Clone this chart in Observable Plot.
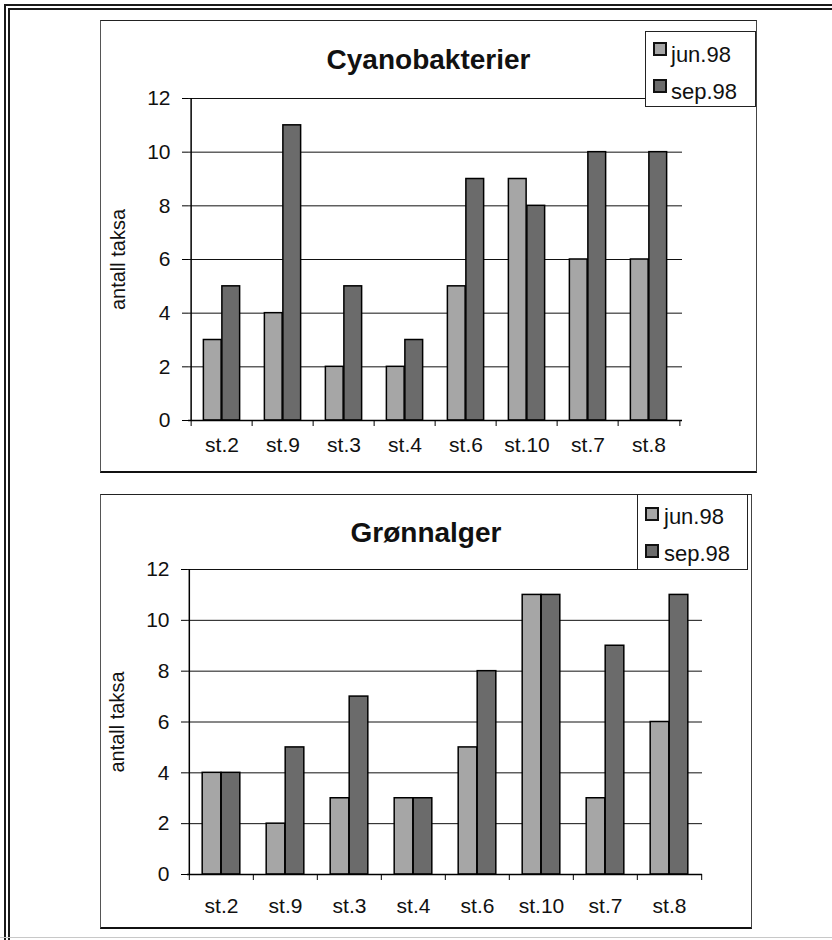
<!DOCTYPE html>
<html>
<head>
<meta charset="utf-8">
<script src="https://cdn.jsdelivr.net/npm/d3@7"></script>
<script src="https://cdn.jsdelivr.net/npm/@observablehq/plot@0.6"></script>
<style>
  body { margin: 0; background: #fff; font-family: "Liberation Sans", Arial, Helvetica, sans-serif; }
  #page { position: relative; width: 832px; height: 940px; overflow: hidden; background: #fff; }
  .frame { position: absolute; left: 4px; top: 4px; width: 900px; height: 960px;
           border-top: 6px double #1a1a1a; border-left: 6px double #1a1a1a; box-sizing: border-box; }
  .bottomline { position: absolute; left: 0; top: 937px; width: 832px; height: 0; border-top: 1px solid #c8c8c8; }
  .box { position: absolute; box-sizing: border-box; background: #fff;
         border-left: 1.5px solid #555; border-top: 1.5px solid #222; border-right: 1.5px solid #444; border-bottom: 2px solid #111; }
  .chart { position: absolute; }
  .title { position: absolute; font-weight: bold; font-size: 28px; line-height: 28px; text-align: center; color: #111; white-space: nowrap; }
  .legend { position: absolute; box-sizing: border-box; background: #fff; border: 1.5px solid #222; }
  .sw { position: absolute; box-sizing: border-box; border: 2px solid #111; }
  .lt { position: absolute; font-size: 22px; line-height: 22px; color: #111; white-space: nowrap; }
</style>
</head>
<body>
<div id="page">
  <div class="frame"></div>
  <div class="bottomline"></div>
</div>
<script>
// ---- data ----
const stations = ["st.2", "st.9", "st.3", "st.4", "st.6", "st.10", "st.7", "st.8"];
const series = ["jun.98", "sep.98"];
const cyanoJun = [3, 4, 2, 2, 5, 9, 6, 6];
const cyanoSep = [5, 11, 5, 3, 9, 8, 10, 10];
const gronnJun = [4, 2, 3, 3, 5, 11, 3, 6];
const gronnSep = [4, 5, 7, 3, 8, 11, 9, 11];
const yTicks = [0, 2, 4, 6, 8, 10, 12];
const yLabel = "antall taksa";
const titles = ["Cyanobakterier", "Grønnalger"];
const colors = ["#a6a6a6", "#6b6b6b"];

const page = document.getElementById("page");

function el(cls, style, text) {
  const d = document.createElement("div");
  d.className = cls;
  Object.assign(d.style, style);
  if (text != null) d.textContent = text;
  page.appendChild(d);
  return d;
}

function chart(cfg) {
  const {title, jun, sep, box, m, barW, titleTop, legend, labelPad} = cfg;
  const rows = stations.flatMap((s, i) => [
    {station: s, series: series[0], value: jun[i]},
    {station: s, series: series[1], value: sep[i]}
  ]);
  el("box", {left: box.x + "px", top: box.y + "px", width: box.w + "px", height: box.h + "px"});
  const bw = (box.w - m.l - m.r) / stations.length;
  const svg = Plot.plot({
    width: box.w, height: box.h,
    marginLeft: m.l, marginRight: m.r, marginTop: m.t, marginBottom: m.b,
    style: {fontFamily: "'Liberation Sans', Arial, sans-serif", fontSize: "21px", color: "#111", background: "transparent", overflow: "visible"},
    x: {domain: stations, type: "band", padding: 0, label: null},
    y: {domain: [0, 12], label: null},
    color: {domain: series, range: colors},
    marks: [
      Plot.gridY(yTicks, {stroke: "#111", strokeOpacity: 1, strokeWidth: 1}),
      Plot.barY(rows.filter(d => d.series === series[0]), {x: "station", y: "value", fill: "series", stroke: "#000", strokeWidth: 1.5, insetLeft: bw / 2 - barW, insetRight: bw / 2}),
      Plot.barY(rows.filter(d => d.series === series[1]), {x: "station", y: "value", fill: "series", stroke: "#000", strokeWidth: 1.5, insetLeft: bw / 2, insetRight: bw / 2 - barW}),
      Plot.ruleY([0], {stroke: "#000", strokeWidth: 1.5}),
      Plot.ruleX([stations[0]], {y1: 0, y2: 12, dx: -bw / 2, stroke: "#000", strokeWidth: 1.5}),
      Plot.axisY({ticks: yTicks, tickSize: 6, tickPadding: 12, fontSize: 21, label: null, stroke: "#000"}),
      Plot.axisX({tickSize: 0, tickPadding: labelPad, fontSize: 21, label: null}),
      Plot.axisX({tickSize: 6, dx: -bw / 2, tickFormat: () => "", label: null, stroke: "#000"}),
      Plot.axisX({ticks: [stations[stations.length - 1]], tickSize: 6, dx: bw / 2, tickFormat: () => "", label: null, stroke: "#000"}),
      Plot.text([yLabel], {text: d => d, frameAnchor: "left", textAnchor: "middle", lineAnchor: "middle", rotate: -90, dx: -70, fontSize: 20, fill: "#111"})
    ]
  });
  svg.classList.add("chart");
  svg.style.left = box.x + "px";
  svg.style.top = box.y + "px";
  page.appendChild(svg);

  el("title", {left: box.x + "px", top: titleTop + "px", width: box.w + "px"}, title);

  el("legend", {left: legend.x + "px", top: legend.y + "px", width: legend.w + "px", height: legend.h + "px"});
  series.forEach((s, i) => {
    el("sw", {left: legend.sx + "px", top: (legend.sy + i * legend.dy) + "px", width: "14px", height: "14px", background: colors[i]});
    el("lt", {left: legend.tx + "px", top: (legend.ty + i * legend.dy) + "px"}, s);
  });
}

chart({
  title: titles[0], jun: cyanoJun, sep: cyanoSep,
  box: {x: 100, y: 20, w: 657, h: 453},
  m: {l: 88, r: 75, t: 78, b: 53},
  barW: 18.5,
  titleTop: 46,
  labelPad: 17,
  legend: {x: 645, y: 31, w: 111, h: 76, sx: 653, sy: 42, tx: 671, ty: 44, dy: 37}
});

chart({
  title: titles[1], jun: gronnJun, sep: gronnSep,
  box: {x: 100, y: 494, w: 652, h: 435},
  m: {l: 87, r: 50, t: 75, b: 55},
  barW: 19,
  titleTop: 519,
  labelPad: 24,
  legend: {x: 637, y: 494, w: 111, h: 76, sx: 645, sy: 507, tx: 664, ty: 506, dy: 37}
});
</script>
</body>
</html>
